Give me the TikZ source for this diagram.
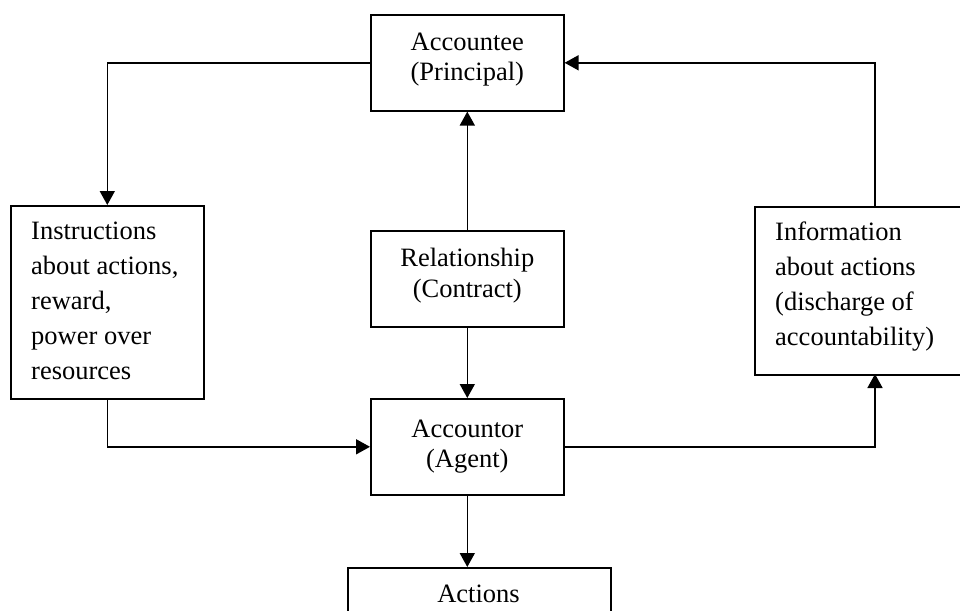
\documentclass[tikz,border=0pt]{standalone}
\usepackage{fontspec}
\setmainfont{Liberation Serif}
\usetikzlibrary{arrows.meta,calc}
\begin{document}
\begin{tikzpicture}[x=1pt,y=-1pt,
  box/.style={draw=black,line width=1.6pt,fill=white,inner sep=0pt,anchor=north west},
  ctext/.style={align=center,inner sep=0pt,anchor=center,
    font=\fontsize{26.5}{30.5}\selectfont},
  ltext/.style={align=left,inner sep=0pt,anchor=north west,
    font=\fontsize{26.5}{35}\selectfont},
  arr/.style={line width=1.6pt,-{Triangle[length=14pt,width=15pt]}}]
\useasboundingbox (0,0) rectangle (960,610);
\clip (0,0) rectangle (960,610);

% boxes
\node[box,minimum width=193pt,minimum height=96pt] (acc) at (370,14) {};
\node[box,minimum width=193pt,minimum height=193pt] (instr) at (10,205) {};
\node[box,minimum width=242pt,minimum height=168pt] (info) at (754,206) {};
\node[box,minimum width=193pt,minimum height=96pt] (rel) at (370,230) {};
\node[box,minimum width=193pt,minimum height=96pt] (agent) at (370,398) {};
\node[box,minimum width=263pt,minimum height=60pt] (act) at (347,567) {};

% labels
\node[ctext] (acct) at ($(acc.center)+(0,-3)$) {Accountee\\(Principal)};
\node[ctext] (relt) at ($(rel.center)+(0,-3)$) {Relationship\\(Contract)};
\node[ctext] (agentt) at ($(agent.center)+(0,0)$) {Accountor\\(Agent)};
\node[ctext,anchor=base] (actt) at (478.5,602) {Actions};
\node[ltext] (instrt) at (31,222) {Instructions\\about actions,\\reward,\\power over\\resources};
\node[ltext] (infot) at (775,222) {Information\\about actions\\(discharge of\\accountability)};

% connectors
\coordinate (infoin) at (875,374);
\coordinate (infoout) at (875,206);
\draw[arr] (acc.west) -| (instr.north);
\draw[arr] (infoout) |- (acc.east);
\draw[arr] (rel.north) -- (acc.south);
\draw[arr] (rel.south) -- (agent.north);
\draw[arr] (instr.south) |- (agent.west);
\draw[arr] (agent.east) -| (infoin);
\draw[arr] (agent.south) -- (agent.south |- act.north);
\end{tikzpicture}
\end{document}
